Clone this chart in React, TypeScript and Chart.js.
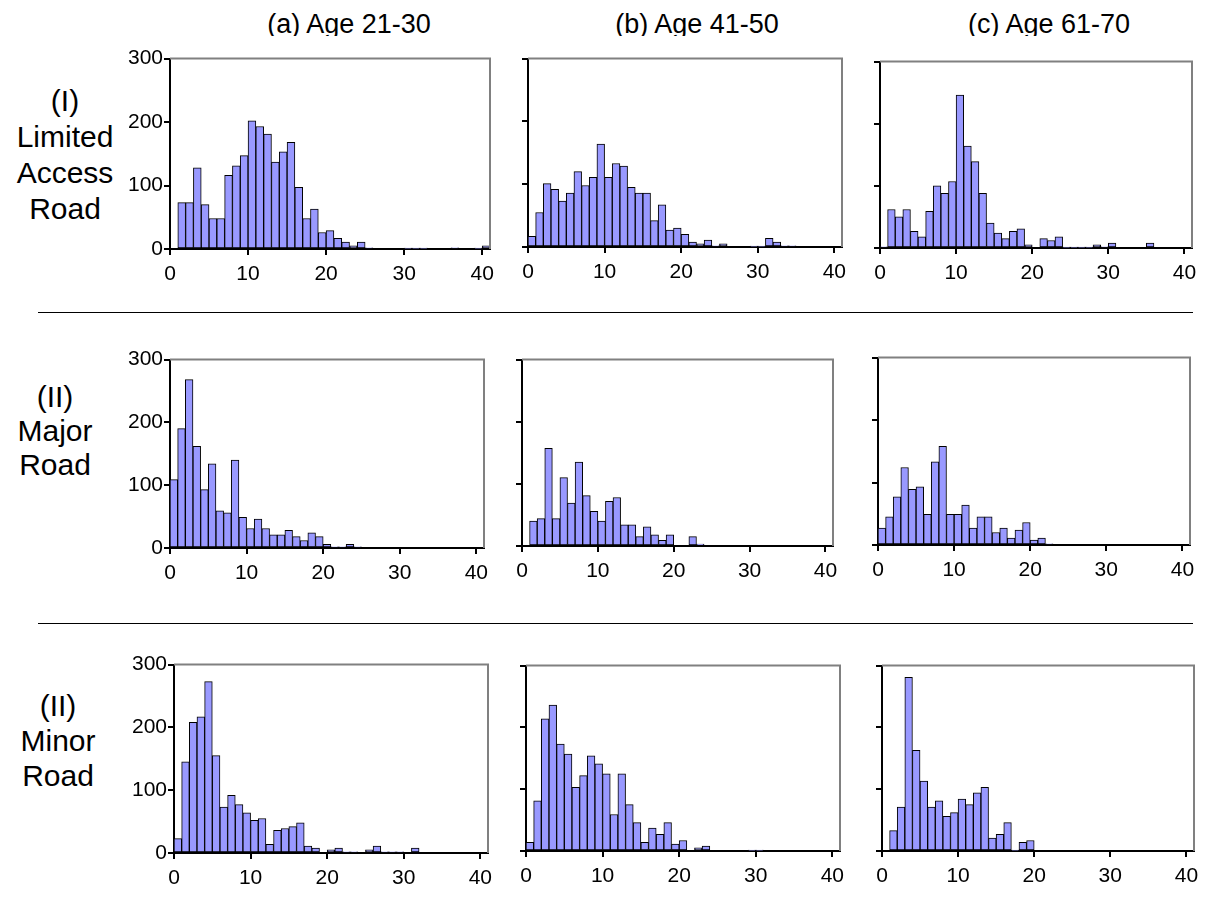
import React, { useEffect, useRef } from 'react';
import { Chart, registerables } from 'chart.js';

Chart.register(...registerables);

// ---------- data ----------
const BIN_CENTERS = [
  0.5, 1.5, 2.5, 3.5, 4.5, 5.5, 6.5, 7.5, 8.5, 9.5,
  10.5, 11.5, 12.5, 13.5, 14.5, 15.5, 16.5, 17.5, 18.5, 19.5,
  20.5, 21.5, 22.5, 23.5, 24.5, 25.5, 26.5, 27.5, 28.5, 29.5,
  30.5, 31.5, 32.5, 33.5, 34.5, 35.5, 36.5, 37.5, 38.5, 39.5,
  40.5,
];
const X_TICKS = [0, 10, 20, 30, 40];
const Y_TICKS = [0, 100, 200, 300];

const COLUMN_TITLES = ['(a) Age 21-30', '(b) Age 41-50', '(c) Age 61-70'];
const ROW_LABELS = [
  ['(I)', 'Limited', 'Access', 'Road'],
  ['(II)', 'Major', 'Road'],
  ['(II)', 'Minor', 'Road'],
];

const LIMITED_21_30 = [0, 73, 73, 128, 70, 48, 48, 116, 131, 147, 202, 193, 181, 137, 153, 168, 97, 48, 63, 26, 29, 17, 11, 5, 11, 2, 0, 0, 0, 0, 1, 1, 1, 0, 0, 0, 2, 0, 0, 1, 5];
const LIMITED_41_50 = [17, 55, 101, 92, 73, 86, 120, 98, 111, 164, 111, 133, 129, 95, 86, 86, 42, 67, 27, 30, 20, 8, 5, 11, 2, 5, 0, 0, 0, 1, 1, 14, 8, 2, 2, 0, 0, 0, 0, 0, 0];
const LIMITED_61_70 = [2, 62, 50, 62, 27, 18, 59, 100, 88, 107, 246, 164, 139, 88, 40, 24, 15, 27, 31, 5, 0, 15, 12, 18, 1, 1, 1, 1, 5, 2, 8, 0, 0, 0, 0, 8, 0, 0, 0, 0, 0];

const MAJOR_21_30 = [109, 190, 268, 162, 93, 134, 59, 56, 140, 49, 31, 46, 31, 21, 21, 28, 18, 12, 24, 18, 6, 2, 2, 6, 2, 0, 0, 0, 0, 0, 0, 0, 0, 0, 0, 0, 0, 0, 0, 0, 0];
const MAJOR_41_50 = [0, 40, 44, 157, 44, 110, 69, 135, 81, 56, 40, 72, 78, 34, 34, 15, 31, 18, 9, 18, 0, 0, 15, 3, 0, 0, 0, 0, 0, 0, 0, 0, 0, 0, 0, 0, 0, 0, 0, 0, 0];
const MAJOR_61_70 = [27, 45, 77, 124, 89, 93, 49, 133, 158, 49, 49, 64, 27, 45, 45, 20, 27, 11, 24, 36, 8, 11, 2, 0, 0, 0, 0, 0, 0, 0, 0, 0, 0, 0, 0, 0, 0, 0, 0, 0, 0];

const MINOR_21_30 = [23, 145, 208, 217, 273, 155, 73, 92, 77, 64, 52, 55, 14, 36, 39, 42, 48, 11, 8, 0, 5, 8, 2, 2, 0, 5, 11, 2, 2, 2, 0, 8, 0, 0, 0, 0, 0, 0, 0, 0, 0];
const MINOR_41_50 = [14, 81, 214, 236, 173, 157, 103, 122, 154, 141, 125, 59, 125, 75, 46, 14, 37, 27, 46, 11, 17, 0, 5, 8, 0, 0, 0, 0, 0, 1, 1, 0, 0, 0, 0, 0, 0, 0, 0, 0, 0];
const MINOR_61_70 = [0, 33, 71, 281, 163, 113, 71, 81, 56, 62, 84, 75, 94, 103, 21, 27, 46, 1, 14, 17, 0, 0, 0, 0, 0, 0, 0, 0, 0, 0, 0, 0, 0, 0, 0, 0, 0, 0, 0, 0, 0];

const SERIES_GRID = [
  [LIMITED_21_30, LIMITED_41_50, LIMITED_61_70],
  [MAJOR_21_30, MAJOR_41_50, MAJOR_61_70],
  [MINOR_21_30, MINOR_41_50, MINOR_61_70],
];

// ---------- layout ----------
const FONT = "'Liberation Sans', Arial, Helvetica, sans-serif";
const AXIS_W = 60;
const AXIS_H = 45;
const PAD_T = 10;
const PAD_R = 20;

const PANEL_RECTS = [
  [
    { l: 170, t: 55, r: 490, b: 249 },
    { l: 528, t: 55, r: 842, b: 247 },
    { l: 880, t: 58, r: 1192, b: 248 },
  ],
  [
    { l: 170, t: 356, r: 484, b: 548 },
    { l: 522, t: 356, r: 833, b: 546 },
    { l: 878, t: 354, r: 1190, b: 545 },
  ],
  [
    { l: 174, t: 661, r: 488, b: 853 },
    { l: 526, t: 662, r: 840, b: 851 },
    { l: 882, t: 662, r: 1194, b: 851 },
  ],
];

const TITLE_CENTERS = [349, 697, 1049];
const ROW_LABEL_POS = [
  { cx: 65, top: 83, lh: 36 },
  { cx: 55, top: 380, lh: 34 },
  { cx: 58, top: 688, lh: 35 },
];
const SEPARATORS_Y = [312, 623];

const framePlugin = {
  id: 'frame',
  afterDatasetsDraw(chart: any) {
    const { ctx, chartArea } = chart;
    const { left, top, right, bottom } = chartArea;
    ctx.save();
    ctx.strokeStyle = '#808080';
    ctx.lineWidth = 2;
    ctx.beginPath();
    ctx.moveTo(left, top);
    ctx.lineTo(right, top);
    ctx.lineTo(right, bottom);
    ctx.stroke();
    ctx.restore();
  },
};

function Panel({ rect, values, showY }: { rect: any; values: number[]; showY: boolean }) {
  const ref = useRef<HTMLCanvasElement>(null);
  const w = rect.r - rect.l + AXIS_W + PAD_R;
  const h = rect.b - rect.t + PAD_T + AXIS_H;

  useEffect(() => {
    if (!ref.current) return;
    const gridOpts = {
      display: true,
      drawOnChartArea: false,
      drawTicks: true,
      tickLength: 6,
      color: '#000',
      lineWidth: 2,
      offset: false,
    };
    const chart = new Chart(ref.current, {
      type: 'bar',
      data: {
        datasets: [
          {
            data: BIN_CENTERS.map((x, i) => ({ x, y: values[i] })),
            backgroundColor: '#9999FF',
            borderColor: '#000000',
            borderWidth: 1,
            borderSkipped: false,
            categoryPercentage: 1,
            barPercentage: 1,
          } as any,
        ],
      },
      options: {
        responsive: false,
        animation: false,
        devicePixelRatio: 1,
        layout: { padding: { left: 0, top: PAD_T, right: PAD_R, bottom: 0 } },
        plugins: {
          legend: { display: false },
          tooltip: { enabled: false },
          title: { display: false },
        },
        scales: {
          x: {
            type: 'linear',
            min: 0,
            max: 41,
            offset: false,
            afterBuildTicks: (s: any) => {
              s.ticks = X_TICKS.map((v) => ({ value: v }));
            },
            afterFit: (s: any) => {
              s.height = AXIS_H;
            },
            grid: gridOpts,
            border: { display: true, color: '#000', width: 2 },
            ticks: {
              color: '#000',
              font: { family: FONT, size: 21 },
              padding: 7,
              maxRotation: 0,
              autoSkip: false,
            },
          },
          y: {
            type: 'linear',
            min: 0,
            max: 300,
            afterBuildTicks: (s: any) => {
              s.ticks = Y_TICKS.map((v) => ({ value: v }));
            },
            afterFit: (s: any) => {
              s.width = AXIS_W;
            },
            grid: gridOpts,
            border: { display: true, color: '#000', width: 2 },
            ticks: {
              color: '#000',
              font: { family: FONT, size: 21 },
              padding: 1,
              callback: (v: any) => (showY ? String(v) : ''),
            },
          },
        },
      } as any,
      plugins: [framePlugin],
    });
    return () => chart.destroy();
  }, []);

  return (
    <canvas
      ref={ref}
      width={w}
      height={h}
      style={{ position: 'absolute', left: rect.l - AXIS_W, top: rect.t - PAD_T, width: w, height: h }}
    />
  );
}

export default function App() {
  return (
    <div
      style={{
        position: 'absolute',
        left: 0,
        top: 0,
        width: 1207,
        height: 898,
        background: '#fff',
        fontFamily: FONT,
        color: '#000',
        overflow: 'hidden',
      }}
    >
      {COLUMN_TITLES.map((t, i) => (
        <div
          key={'t' + i}
          style={{
            position: 'absolute',
            left: TITLE_CENTERS[i] - 150,
            top: 0,
            width: 300,
            height: 36,
            overflow: 'hidden',
          }}
        >
          <div
            style={{
              position: 'absolute',
              left: 0,
              top: 11,
              width: 300,
              textAlign: 'center',
              fontSize: 27,
              lineHeight: '27px',
              whiteSpace: 'nowrap',
            }}
          >
            {t}
          </div>
        </div>
      ))}
      {ROW_LABELS.map((lines, i) => (
        <div
          key={'r' + i}
          style={{
            position: 'absolute',
            left: ROW_LABEL_POS[i].cx - 70,
            top: ROW_LABEL_POS[i].top,
            width: 140,
            textAlign: 'center',
            fontSize: 30,
            lineHeight: ROW_LABEL_POS[i].lh + 'px',
            whiteSpace: 'nowrap',
          }}
        >
          {lines.map((ln, j) => (
            <div key={j}>{ln}</div>
          ))}
        </div>
      ))}
      {SEPARATORS_Y.map((y, i) => (
        <div
          key={'s' + i}
          style={{ position: 'absolute', left: 38, top: y, width: 1155, height: 1, background: '#000' }}
        />
      ))}
      {PANEL_RECTS.map((row, ri) =>
        row.map((rect, ci) => (
          <Panel key={ri + '-' + ci} rect={rect} values={SERIES_GRID[ri][ci]} showY={ci === 0} />
        ))
      )}
    </div>
  );
}
